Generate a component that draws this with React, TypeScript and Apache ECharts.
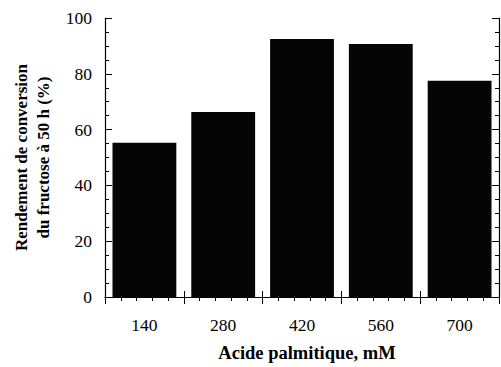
import React, { useEffect, useRef } from "react";
import * as echarts from "echarts";

const categories = ["140", "280", "420", "560", "700"];
const yieldValues = [55.3, 66.3, 92.5, 90.7, 77.5];
const yTicks = { min: 0, max: 100, interval: 20 };

const FONT = "Times New Roman, Liberation Serif, serif";

export default function App() {
  const ref = useRef<HTMLDivElement>(null);
  useEffect(() => {
    if (!ref.current) return;
    const chart = echarts.init(ref.current, undefined, { renderer: "svg" });
    const line = { show: true, lineStyle: { color: "#000", width: 1.2 } };
    chart.setOption({
      animation: false,
      backgroundColor: "#fff",
      grid: { left: 105, right: 2, top: 18, bottom: 69 },
      xAxis: [
        {
          type: "category",
          data: categories,
          position: "bottom",
          axisLine: line,
          axisTick: { show: true, inside: true, length: 6, alignWithLabel: false, lineStyle: { color: "#000" } },
          axisLabel: { fontFamily: FONT, fontSize: 17.5, color: "#000", margin: 19 },
          name: "Acide palmitique, mM",
          nameLocation: "middle",
          nameGap: 46,
          nameTextStyle: { fontFamily: FONT, fontSize: 18.5, fontWeight: "bold", color: "#000", padding: [0, 0, 0, 10] },
          splitLine: { show: false },
        },
        {
          type: "value",
          position: "top",
          min: 0,
          max: 5,
          interval: 1,
          axisLine: line,
          axisTick: { show: true, inside: true, length: 7, lineStyle: { color: "#000" } },
          minorTick: { show: true, splitNumber: 5, length: 4, lineStyle: { color: "#000" } },
          axisLabel: { show: false },
          splitLine: { show: false },
        },
      ],
      yAxis: [
        {
          type: "value",
          position: "left",
          min: yTicks.min,
          max: yTicks.max,
          interval: yTicks.interval,
          axisLine: line,
          axisTick: { show: true, inside: true, length: 7, lineStyle: { color: "#000" } },
          minorTick: { show: true, splitNumber: 4, length: 4, lineStyle: { color: "#000" } },
          axisLabel: { fontFamily: FONT, fontSize: 17.5, color: "#000", margin: 13 },
          splitLine: { show: false },
          name: "Rendement de conversion\ndu fructose à 50 h (%)",
          nameLocation: "middle",
          nameGap: 47,
          nameTextStyle: { fontFamily: FONT, fontSize: 17, fontWeight: "bold", color: "#000", lineHeight: 22 },
        },
        {
          type: "value",
          position: "right",
          min: yTicks.min,
          max: yTicks.max,
          interval: yTicks.interval,
          axisLine: line,
          axisTick: { show: true, inside: true, length: 7, lineStyle: { color: "#000" } },
          minorTick: { show: true, splitNumber: 4, length: 4, lineStyle: { color: "#000" } },
          axisLabel: { show: false },
          splitLine: { show: false },
        },
      ],
      series: [
        {
          type: "bar",
          xAxisIndex: 0,
          yAxisIndex: 0,
          data: yieldValues,
          barCategoryGap: "19%",
          itemStyle: { color: "#050505" },
        },
      ],
    });
    return () => chart.dispose();
  }, []);
  return (
    <div
      ref={ref}
      style={{ position: "absolute", left: 0, top: 0, width: 501, height: 367 }}
    />
  );
}
